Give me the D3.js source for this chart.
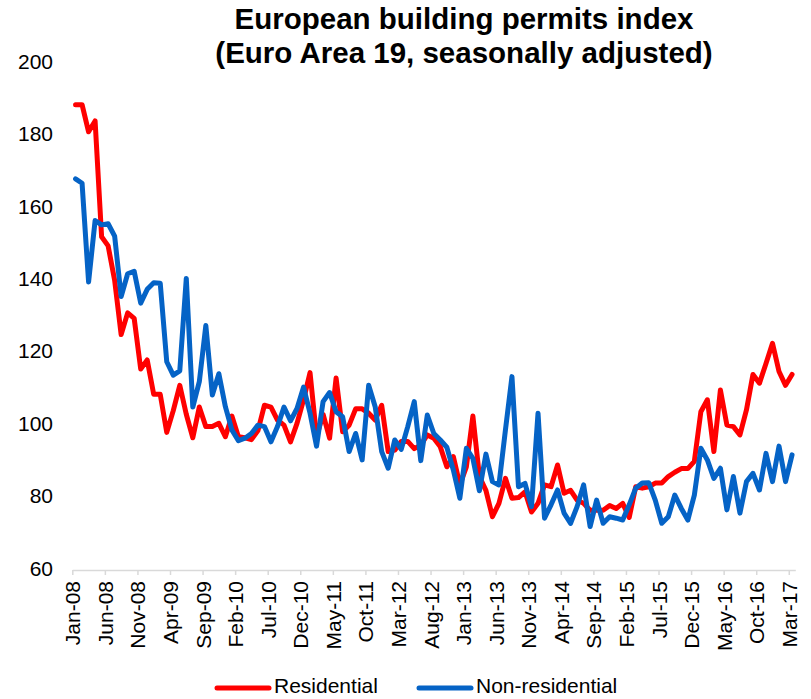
<!DOCTYPE html>
<html>
<head>
<meta charset="utf-8">
<script src="https://cdn.jsdelivr.net/npm/d3@7"></script>
<style>
  body { margin: 0; background: #fff; }
  text { font-family: "Liberation Sans", Arial, sans-serif; }
</style>
</head>
<body>
<div id="container"></div>
<script>
// month labels, Jan-08 .. Mar-17
let monthNames = ["Jan","Feb","Mar","Apr","May","Jun","Jul","Aug","Sep","Oct","Nov","Dec"];
let months = [];
for (let y = 8; y <= 17; y++) {
  for (let m = 0; m < 12; m++) {
    if (y == 17 && m > 2) break;
    months.push(monthNames[m] + "-" + (y < 10 ? "0" + y : y));
  }
}

let residential = [
  188.5, 188.5, 181, 184, 152, 149.5, 140, 125, 131, 129.5,
  115.5, 118, 108.5, 108.5, 98, 104, 111, 103, 96.5, 105,
  99.6, 99.6, 100.5, 96.8, 102.5, 96.8, 96.5, 96, 98.5, 105.5,
  105, 101.4, 100, 95.4, 100.5, 107, 114.5, 96.8, 103, 96.4,
  113, 98.2, 100, 104.5, 104.5, 103.3, 101.4, 105.5, 92.7, 93.1,
  95.5, 95.5, 93.5, 94.5, 97.3, 96.4, 94, 88.5, 91.3, 83.5,
  88.5, 102.5, 85.8, 82, 74.7, 78.4, 85.3, 79.8, 80, 81.6,
  76, 78.4, 83.5, 83, 89, 81.2, 82, 79.3, 78.4, 76.5,
  76.5, 76.5, 77.8, 77, 78.4, 74.5, 83, 82.6, 83, 84,
  84, 85.8, 87, 88, 88, 90, 103.7, 107, 92.7, 109.7,
  100, 99.6, 97.3, 104.2, 114, 111.6, 117, 122.6, 114.8, 111,
  114
];
let nonResidential = [
  168, 166.8, 139.5, 156.5, 155.3, 155.6, 152.2, 135.5, 141.8, 142.5,
  133.7, 137.5, 139.3, 139.2, 117.5, 113.8, 115, 140.5, 105, 112,
  127.5, 108.3, 114.2, 105.1, 98.7, 95.7, 96.4, 97.7, 100, 99.6,
  95.4, 99.6, 105, 101.2, 104.6, 110.5, 103.3, 94.2, 106.5, 109,
  103.7, 102.3, 92.7, 97.7, 90.4, 111, 105.1, 92.7, 88.1, 95.9,
  93.3, 99.6, 106.5, 90.2, 102.8, 97.7, 95.9, 93.9, 87.6, 79.8,
  93.6, 90.8, 81.9, 92, 84.4, 83.5, 98.7, 113.4, 83, 83.9,
  77.5, 103.3, 74.3, 78, 82.1, 75.7, 72.9, 77.5, 83.5, 72,
  79.3, 72.9, 74.7, 74.3, 73.8, 78, 82.6, 84, 84.1, 79.3,
  72.9, 74.7, 80.7, 77, 73.8, 80.7, 93.6, 90.4, 85.3, 88.1,
  76.6, 85.8, 75.7, 84.4, 86.7, 82.1, 92.2, 84.4, 94.2, 84.4,
  91.8
];
let yTicks = [60, 80, 100, 120, 140, 160, 180, 200];
let seriesNames = ["Residential", "Non-residential"];
let seriesColors = ["#ff0000", "#0563c6"];

let w = 811;
let h = 699;

let viz = d3.select("#container")
  .append("svg")
    .attr("width", w)
    .attr("height", h);

// scales
let xScale = d3.scaleLinear().domain([0, months.length]).range([72.3, 795.3]);
let yScale = d3.scaleLinear().domain([60, 200]).range([570, 63]);

// title
let title = viz.append("text")
  .attr("text-anchor", "middle")
  .attr("font-size", 29.5)
  .attr("font-weight", "bold")
  .attr("fill", "#000");
title.append("tspan").attr("x", 464).attr("y", 29).text("European building permits index");
title.append("tspan").attr("x", 464).attr("y", 63).text("(Euro Area 19, seasonally adjusted)");

// y axis: labels only
let yAxis = d3.axisLeft(yScale).tickValues(yTicks).tickSize(0).tickPadding(0);
let yAxisGroup = viz.append("g")
  .attr("transform", "translate(53,0)")
  .call(yAxis);
yAxisGroup.select(".domain").remove();
yAxisGroup.selectAll("text")
  .attr("font-size", 21)
  .attr("font-family", "Liberation Sans, Arial, sans-serif")
  .attr("fill", "#000")
  .attr("dy", "0.25em");

// x axis: ticks every 5 months
let xTickValues = d3.range(0, months.length, 5);
let xAxis = d3.axisBottom(xScale)
  .tickValues(xTickValues)
  .tickFormat(function(d){ return months[d]; })
  .tickSizeInner(5)
  .tickSizeOuter(0);
let xAxisGroup = viz.append("g")
  .attr("transform", "translate(0,570)")
  .call(xAxis);
xAxisGroup.select(".domain").attr("stroke", "#d9d9d9").attr("stroke-width", 1.5);
xAxisGroup.selectAll(".tick line").attr("stroke", "#d9d9d9").attr("stroke-width", 1.5);
xAxisGroup.selectAll(".tick text")
  .attr("font-size", 21)
  .attr("font-family", "Liberation Sans, Arial, sans-serif")
  .attr("fill", "#000")
  .attr("text-anchor", "end")
  .attr("transform", "rotate(-90)")
  .attr("x", -11)
  .attr("y", 0)
  .attr("dy", "0.36em");

// lines
let line = d3.line()
  .x(function(d, i){ return xScale(i + 0.5); })
  .y(function(d){ return yScale(d); });

let graphgroup = viz.append("g");
[residential, nonResidential].forEach(function(s, k){
  graphgroup.append("path")
    .datum(s)
    .attr("d", line)
    .attr("fill", "none")
    .attr("stroke", seriesColors[k])
    .attr("stroke-width", 5)
    .attr("stroke-linejoin", "round")
    .attr("stroke-linecap", "round");
});

// legend
let legendX = [217, 419];
seriesNames.forEach(function(name, k){
  let g = viz.append("g").attr("transform", "translate(" + legendX[k] + ",688)");
  g.append("line")
    .attr("x1", 0).attr("x2", 52)
    .attr("stroke", seriesColors[k])
    .attr("stroke-width", 5)
    .attr("stroke-linecap", "round");
  g.append("text")
    .attr("x", 57)
    .attr("y", 5)
    .attr("font-size", 21)
    .attr("fill", "#000")
    .text(name);
});
</script>
</body>
</html>
